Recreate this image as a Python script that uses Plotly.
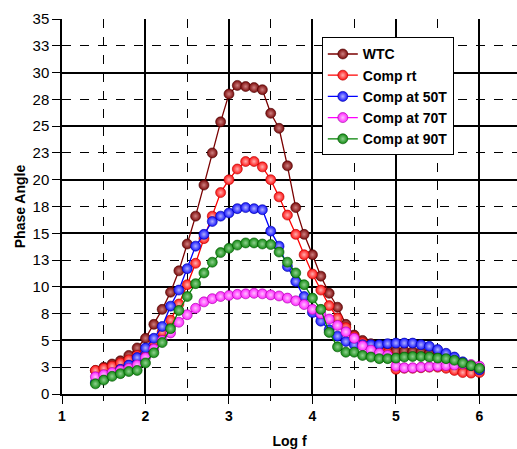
import plotly.graph_objects as go

log_f = [1.4, 1.5, 1.6, 1.7, 1.8, 1.9, 2.0, 2.1, 2.2, 2.3, 2.4, 2.5, 2.6, 2.7, 2.8, 2.9,
         3.0, 3.1, 3.2, 3.3, 3.4, 3.5, 3.6, 3.7, 3.8, 3.9, 4.0, 4.1, 4.2, 4.3, 4.4, 4.5,
         4.6, 4.7, 4.8, 4.9, 5.0, 5.1, 5.2, 5.3, 5.4, 5.5, 5.6, 5.7, 5.8, 5.9, 6.0]

wtc = [2.2, 2.5, 2.8, 3.1, 3.6, 4.3, 5.2, 6.5, 7.9, 9.5, 11.5, 14.0, 16.6, 19.5, 22.5, 25.4,
       28.0, 28.8, 28.7, 28.6, 28.4, 26.2, 24.8, 21.3, 17.4, 14.9, 13.0, 11.0, 9.4, 8.1, 6.5, 5.5,
       5.0, 4.7, 4.4, 4.1, 4.0, 4.0, 3.95, 3.9, 3.8, 3.6, 3.4, 3.1, 2.8, 2.5, 2.4]

comp_rt = [2.2, 2.4, 2.6, 2.9, 3.2, 3.6, 4.1, 4.9, 5.8, 6.9, 8.4, 10.2, 12.2, 14.5, 16.6, 18.8,
           20.0, 21.0, 21.7, 21.7, 21.2, 20.0, 18.4, 16.7, 14.9, 13.0, 11.2, 9.7, 8.25, 7.1, 6.2, 5.35,
           4.8, 4.4, 4.1, 3.8, 2.3, 2.4, 2.4, 2.45, 2.5, 2.5, 2.4, 2.2, 2.0, 1.95, 2.0]

comp_50t = [1.1, 1.4, 1.8, 2.3, 2.7, 3.4, 4.3, 5.2, 6.3, 8.2, 9.7, 11.7, 13.8, 14.9, 16.1, 16.6,
            16.9, 17.3, 17.4, 17.3, 17.2, 15.2, 13.8, 11.9, 10.5, 9.1, 7.6, 6.8, 6.0, 5.4, 4.9, 4.6,
            4.6, 4.6, 4.6, 4.7, 4.75, 4.75, 4.75, 4.6, 4.45, 4.15, 3.8, 3.45, 3.0, 2.65, 2.25]

comp_70t = [1.6, 1.8, 2.0, 2.2, 2.4, 2.7, 3.4, 4.2, 5.0, 5.7, 6.7, 7.4, 8.0, 8.6, 8.9, 9.1,
            9.2, 9.3, 9.35, 9.4, 9.35, 9.25, 9.15, 8.95, 8.7, 8.35, 7.9, 7.5, 7.0, 6.4, 5.8, 5.2,
            4.5, 4.1, 3.8, 3.6, 2.6, 2.45, 2.45, 2.5, 2.55, 2.6, 2.65, 2.7, 2.8, 2.75, 2.6]

comp_90t = [0.95, 1.3, 1.65, 1.9, 2.1, 2.2, 2.9, 3.85, 4.8, 6.1, 7.8, 9.1, 10.3, 11.3, 12.3, 13.2,
            13.6, 13.9, 14.1, 14.1, 14.0, 13.95, 13.25, 12.3, 11.3, 10.2, 8.95, 7.9, 5.75, 4.4, 3.9, 3.9,
            3.6, 3.45, 3.3, 3.3, 3.35, 3.45, 3.5, 3.5, 3.45, 3.35, 3.3, 3.15, 2.9, 2.65, 2.4]

series_names = ["WTC", "Comp rt", "Comp at 50T", "Comp at 70T", "Comp at 90T"]
series_values = [wtc, comp_rt, comp_50t, comp_70t, comp_90t]
line_colors = ["#7a0000", "#ff0000", "#0000ff", "#ff00ff", "#008000"]
marker_colors = ["#7a0a0a", "#ff1010", "#1010ff", "#ff20ff", "#108a10"]
edge_colors = ["#4a0000", "#b00000", "#0000a0", "#a000a0", "#005000"]
hilite_colors = ["#d08080", "#ffb0b0", "#b0b0ff", "#ffc0ff", "#90d090"]

y_ticks = [0, 2.5, 5, 7.5, 10, 12.5, 15, 17.5, 20, 22.5, 25, 27.5, 30, 32.5, 35]
y_tick_text = ["0", "3", "5", "8", "10", "13", "15", "18", "20", "23", "25", "28", "30", "33", "35"]
x_ticks = [1, 2, 3, 4, 5, 6]

FONT = "Liberation Sans, Arial, sans-serif"

fig = go.Figure()
for name, vals, lc, mc, ec, hc in zip(series_names, series_values, line_colors,
                                       marker_colors, edge_colors, hilite_colors):
    fig.add_trace(go.Scatter(
        x=log_f, y=vals, name=name, mode="lines+markers",
        line=dict(color=lc, width=1.3),
        marker=dict(size=10, color=mc, line=dict(color=ec, width=0.6),
                    gradient=dict(type="radial", color=hc)),
    ))

# helper trace to hold the grid axis
fig.add_trace(go.Scatter(x=[None], y=[None], yaxis="y2", showlegend=False, hoverinfo="skip"))

fig.update_layout(
    width=517, height=449,
    margin=dict(l=62, r=0, t=19, b=55),
    paper_bgcolor="white", plot_bgcolor="white",
    font=dict(family=FONT, color="black"),
    showlegend=True,
    legend=dict(
        x=0.571, y=0.951, xanchor="left", yanchor="top",
        bgcolor="white", bordercolor="black", borderwidth=1,
        font=dict(family=FONT, size=14, color="black", weight="bold"),
        tracegroupgap=0, itemwidth=30,
    ),
    xaxis=dict(
        range=[1, 6.45], tickvals=x_ticks, ticktext=[str(v) for v in x_ticks],
        showgrid=True, gridcolor="black", gridwidth=1.5,
        showline=True, linecolor="black", linewidth=1.5,
        ticks="outside", ticklen=8, tickwidth=1.2, tickcolor="black",
        tickfont=dict(family=FONT, size=14, weight="bold"),
        minor=dict(dtick=0.5, tick0=0, showgrid=True, gridcolor="black", gridwidth=1,
                   griddash="dash", ticks="outside", ticklen=5, tickcolor="black"),
        title=dict(text="<b>Log f</b>", font=dict(family=FONT, size=14), standoff=14),
        zeroline=False,
    ),
    yaxis=dict(
        range=[0, 35], tickmode="array", tickvals=y_ticks, ticktext=y_tick_text,
        showgrid=False,
        showline=True, linecolor="black", linewidth=1.5,
        ticks="outside", ticklen=8, tickwidth=1.2, tickcolor="black",
        tickfont=dict(family=FONT, size=15),
        title=dict(text="<b>Phase Angle</b>", font=dict(family=FONT, size=14), standoff=4),
        zeroline=False,
    ),
    yaxis2=dict(
        range=[0, 35], overlaying="y", side="left", tick0=0, dtick=5,
        showgrid=True, gridcolor="black", gridwidth=1.5, showticklabels=False,
        ticks="", zeroline=False, showline=False,
        minor=dict(dtick=2.5, tick0=0, showgrid=True, gridcolor="black", gridwidth=1,
                   griddash="dash"),
    ),
)

fig.write_html("out.html")
